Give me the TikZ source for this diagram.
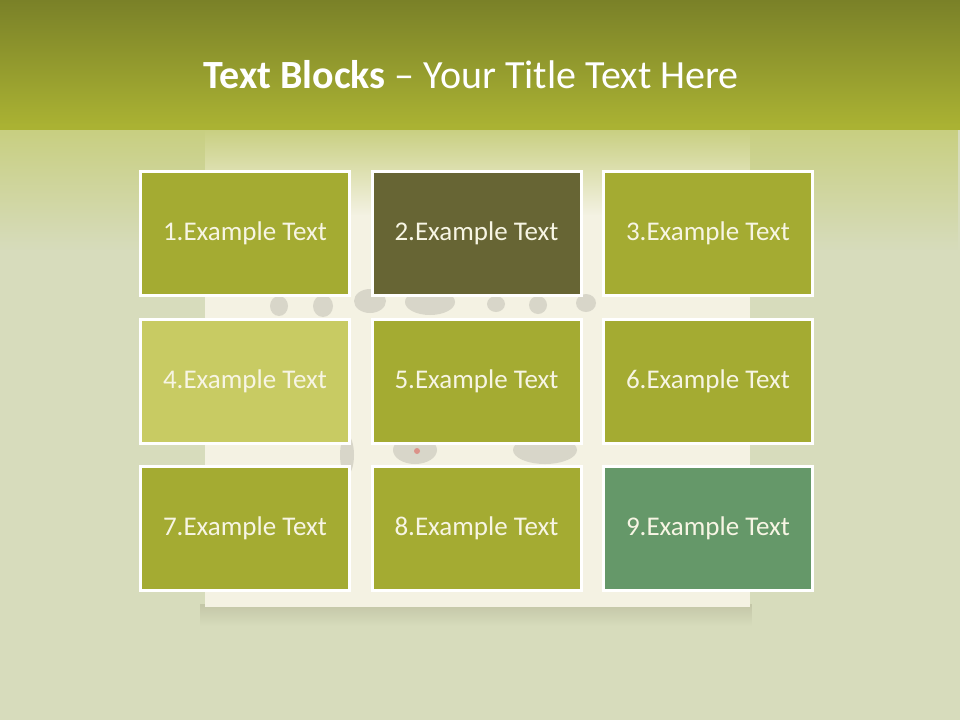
\documentclass[tikz,border=0pt]{standalone}
\usepackage{fontspec}
\setmainfont{Carlito}
\usetikzlibrary{fadings}
\definecolor{bandtop}{HTML}{7A8128}
\definecolor{bandbot}{HTML}{AAB233}
\definecolor{fieldc}{HTML}{D7DCBC}
\definecolor{fieldy}{HTML}{C8CF80}
\definecolor{paperc}{HTML}{F4F2E3}
\definecolor{shadowc}{HTML}{C4C7A8}
\definecolor{oliveb}{HTML}{A4AB32}
\definecolor{darkb}{HTML}{676534}
\definecolor{lightb}{HTML}{C8CB63}
\definecolor{greenb}{HTML}{659869}
\definecolor{txtc}{HTML}{F7F5E4}
\definecolor{inkc}{HTML}{9A988E}
\tikzfading[name=fadedown, top color=transparent!0, bottom color=transparent!100]
\tikzset{
  block/.style={draw=white, line width=3pt, minimum width=209pt, minimum height=124pt,
    inner sep=0pt, text=txtc, font=\fontsize{27}{32}\selectfont},
  ink/.style={fill=inkc, fill opacity=0.3}
}
\begin{document}
\begin{tikzpicture}[x=1pt,y=-1pt]
\useasboundingbox (0,0) rectangle (960,720);
% background field
\fill[fieldc] (0,0) rectangle (960,720);
\fill[fieldy, path fading=fadedown] (0,128) rectangle (960,250);
% paper
\fill[shadowc, path fading=fadedown] (200,604) rectangle (752,626);
\fill[paperc] (205,128) rectangle (750,607);
\fill[fieldy, path fading=fadedown] (205,128) rectangle (750,215);
% faint brush strokes
\fill[ink] (279,306) ellipse (9 and 10);
\fill[ink] (323,306) ellipse (10 and 11);
\fill[ink] (370,301) ellipse (16 and 12);
\fill[ink] (430,302) ellipse (25 and 13);
\fill[ink] (496,304) ellipse (9 and 8);
\fill[ink] (538,305) ellipse (9 and 9);
\fill[ink] (586,303) ellipse (10 and 9);
\fill[ink] (347,455) ellipse (7 and 20);
\fill[ink] (415,450) ellipse (22 and 14);
\fill[red!70!inkc, fill opacity=0.4] (417,451) circle (3);
\fill[ink] (545,450) ellipse (32 and 14);
% title band
\shade[top color=bandtop, bottom color=bandbot] (0,0) rectangle (960,126);
\fill[bandbot] (0,124) rectangle (960,130);
\node[text=white, font=\fontsize{40}{46}\selectfont, anchor=base] (title) at (471,88)
  {\textbf{Text Blocks} – Your Title Text Here};
% blocks
\node[block, fill=oliveb] (b1) at (245,233.5) {1.Example Text};
\node[block, fill=darkb]  (b2) at (476.5,233.5) {2.Example Text};
\node[block, fill=oliveb] (b3) at (708,233.5) {3.Example Text};
\node[block, fill=lightb] (b4) at (245,381) {4.Example Text};
\node[block, fill=oliveb] (b5) at (476.5,381) {5.Example Text};
\node[block, fill=oliveb] (b6) at (708,381) {6.Example Text};
\node[block, fill=oliveb] (b7) at (245,528.5) {7.Example Text};
\node[block, fill=oliveb] (b8) at (476.5,528.5) {8.Example Text};
\node[block, fill=greenb] (b9) at (708,528.5) {9.Example Text};
\end{tikzpicture}
\end{document}
